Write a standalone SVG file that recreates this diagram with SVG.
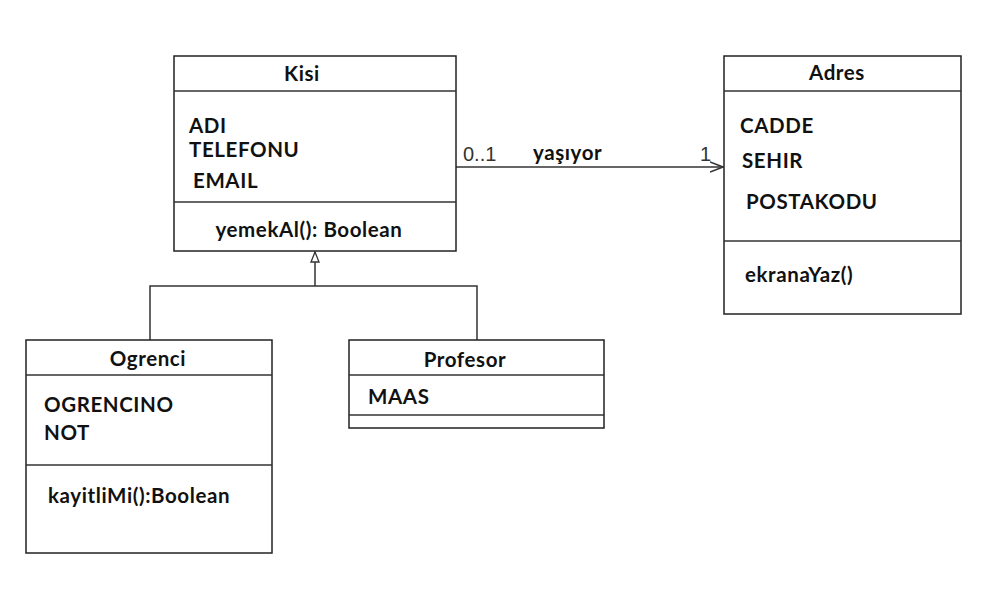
<svg xmlns="http://www.w3.org/2000/svg" width="997" height="590" viewBox="0 0 997 590">
<defs>
<style>
.box{fill:#fff;stroke:#222;stroke-width:1.5}
.ln{stroke:#333;stroke-width:1.5;fill:none}
.t{font-family:Lato,"Open Sans",sans-serif;font-weight:bold;font-size:20.5px;letter-spacing:0.6px;fill:#111}
.c{text-anchor:middle}
.m{font-family:"Liberation Sans",Arial,sans-serif;font-size:20px;fill:#333}
</style>
<marker id="open" viewBox="0 0 14 12" refX="13" refY="6" markerWidth="14" markerHeight="12" markerUnits="userSpaceOnUse" orient="auto">
<path d="M0,1 L13,6 L0,11" fill="none" stroke="#333" stroke-width="1.5"/>
</marker>
<marker id="tri" viewBox="0 0 12 12" refX="11" refY="6" markerWidth="12" markerHeight="12" markerUnits="userSpaceOnUse" orient="auto">
<path d="M1,2 L11,6 L1,10 Z" fill="#fff" stroke="#333" stroke-width="1.3"/>
</marker>
</defs>
<rect width="997" height="590" fill="#fff"/>
<g id="connectors">
<line class="ln" x1="456" y1="167" x2="723" y2="167" marker-end="url(#open)"/>
<polyline class="ln" points="150,340 150,286 477,286 477,340"/>
<line class="ln" x1="315" y1="286" x2="315" y2="252" marker-end="url(#tri)"/>
<text class="m" x="463" y="161">0..1</text>
<text class="t" x="533" y="160">yaşıyor</text>
<text class="m" x="700" y="161">1</text>
</g>
<g id="Kisi">
<rect class="box" x="174" y="56" width="282" height="195"/>
<line class="ln" x1="174" y1="91" x2="456" y2="91"/>
<line class="ln" x1="174" y1="202" x2="456" y2="202"/>
<text class="t c" x="302" y="81">Kisi</text>
<text class="t" x="189" y="133">ADI</text>
<text class="t" x="189" y="157">TELEFONU</text>
<text class="t" x="193" y="188">EMAIL</text>
<text class="t c" x="309" y="237">yemekAl(): Boolean</text>
</g>
<g id="Adres">
<rect class="box" x="724" y="56" width="237" height="258"/>
<line class="ln" x1="724" y1="91" x2="961" y2="91"/>
<line class="ln" x1="724" y1="241" x2="961" y2="241"/>
<text class="t c" x="837" y="80">Adres</text>
<text class="t" x="740" y="133">CADDE</text>
<text class="t" x="742" y="168">SEHIR</text>
<text class="t" x="746" y="209">POSTAKODU</text>
<text class="t" x="745" y="282">ekranaYaz()</text>
</g>
<g id="Ogrenci">
<rect class="box" x="26" y="340" width="246" height="213"/>
<line class="ln" x1="26" y1="375" x2="272" y2="375"/>
<line class="ln" x1="26" y1="465" x2="272" y2="465"/>
<text class="t c" x="148" y="366">Ogrenci</text>
<text class="t" x="44" y="412">OGRENCINO</text>
<text class="t" x="44" y="440">NOT</text>
<text class="t" x="48" y="503">kayitliMi():Boolean</text>
</g>
<g id="Profesor">
<rect class="box" x="349" y="340" width="255" height="88"/>
<line class="ln" x1="349" y1="375" x2="604" y2="375"/>
<line class="ln" x1="349" y1="415" x2="604" y2="415"/>
<text class="t c" x="465" y="367">Profesor</text>
<text class="t" x="368" y="404">MAAS</text>
</g>
</svg>
